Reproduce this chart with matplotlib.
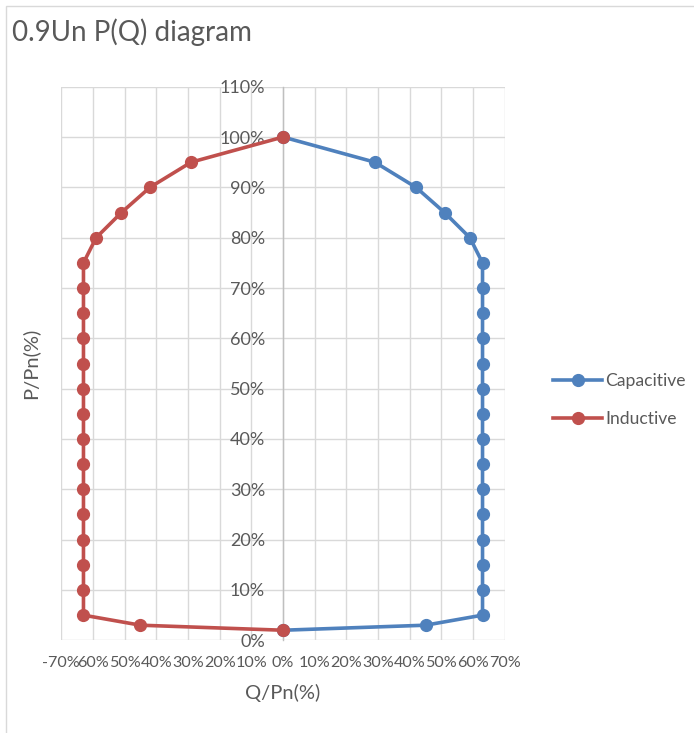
import matplotlib
matplotlib.use("Agg")
import matplotlib.pyplot as plt
from matplotlib.patches import Rectangle

# ---- data ----
p_values = [2, 3, 5, 10, 15, 20, 25, 30, 35, 40, 45, 50, 55, 60, 65, 70, 75, 80, 85, 90, 95, 100]
q_capacitive = [0, 45, 63, 63, 63, 63, 63, 63, 63, 63, 63, 63, 63, 63, 63, 63, 63, 59, 51, 42, 29, 0]
q_inductive = [0, -45, -63, -63, -63, -63, -63, -63, -63, -63, -63, -63, -63, -63, -63, -63, -63, -59, -51, -42, -29, 0]
x_ticks = [-70, -60, -50, -40, -30, -20, -10, 0, 10, 20, 30, 40, 50, 60, 70]
x_tick_labels = ["-70%", "60%", "50%", "40%", "30%", "20%", "10%", "0%", "10%", "20%", "30%", "40%", "50%", "60%", "70%"]
y_ticks = [0, 10, 20, 30, 40, 50, 60, 70, 80, 90, 100, 110]
y_tick_labels = ["0%", "10%", "20%", "30%", "40%", "50%", "60%", "70%", "80%", "90%", "100%", "110%"]
series_names = ["Capacitive", "Inductive"]

plt.rcParams['font.family'] = ['Lato', 'DejaVu Sans']
W, H = 694, 733
fig = plt.figure(figsize=(W / 100, H / 100), dpi=100)

txt = "#595959"
blue = "#4F81BD"
red = "#C0504D"

# chart border
fig.patches.append(Rectangle((6 / W, -0.05), 1.2, 1 - 6 / H + 0.05, transform=fig.transFigure,
                             fill=False, edgecolor="#d9d9d9", linewidth=1.0))

ax = fig.add_axes([61.3 / W, (H - 640.3) / H, 443.4 / W, 553.6 / H])
ax.set_xlim(-70, 70)
ax.set_ylim(0, 110)

ax.set_xticks(x_ticks)
ax.set_xticklabels(x_tick_labels)
ax.set_yticks(y_ticks)
ax.set_yticklabels(y_tick_labels)
ax.grid(True, color="#d9d9d9", linewidth=1.0)
ax.set_axisbelow(True)
for s in ["top", "right", "bottom"]:
    ax.spines[s].set_visible(False)
ax.spines["left"].set_position(("data", 0))
ax.spines["left"].set_color("#bfbfbf")
ax.spines["left"].set_linewidth(1.0)
ax.tick_params(axis="y", length=0, labelsize=13, labelcolor=txt, pad=13)
ax.tick_params(axis="x", length=0, labelsize=11.6, labelcolor=txt, pad=11)

l1, = ax.plot(q_capacitive, p_values, color=blue, linewidth=2.6, marker="o", markersize=8.5,
              label=series_names[0], zorder=3)
l2, = ax.plot(q_inductive, p_values, color=red, linewidth=2.6, marker="o", markersize=8.5,
              label=series_names[1], zorder=4)

fig.text(283 / W, 1 - 693 / H, "Q/Pn(%)", ha="center", va="center", fontsize=14.5, color=txt)
fig.text(30 / W, 1 - 363 / H, "P/Pn(%)", ha="center", va="center", rotation=90, fontsize=14.5, color=txt)
fig.text(12 / W, 1 - 32 / H, "0.9Un P(Q) diagram", ha="left", va="center", fontsize=20, color=txt)

leg = fig.legend(handles=[l1, l2], loc="upper left", bbox_to_anchor=(553 / W, 1 - 373 / H),
                 frameon=False, fontsize=12.6, handlelength=2.8, handletextpad=0.2,
                 labelspacing=1.25, borderpad=0, borderaxespad=0)
for t in leg.get_texts():
    t.set_color(txt)

fig.savefig("out.png", dpi=100)
